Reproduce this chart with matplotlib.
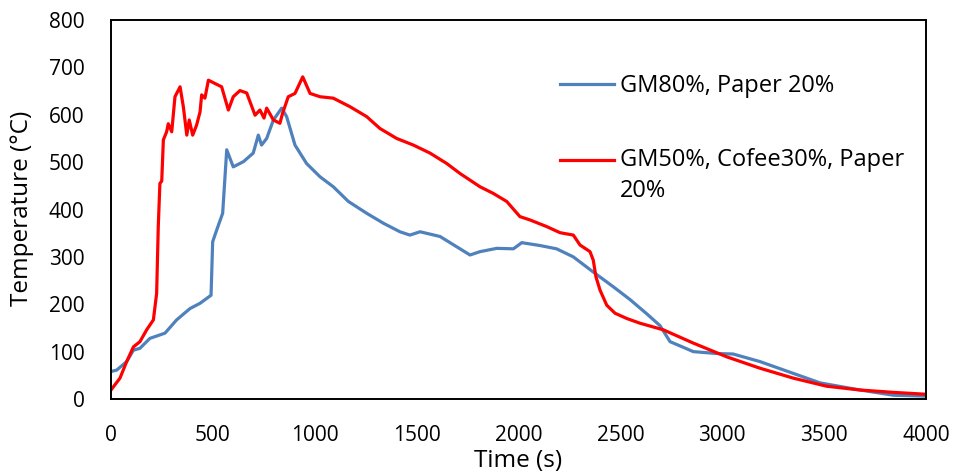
import numpy as np
import matplotlib
matplotlib.use('Agg')
import matplotlib.pyplot as plt

# blue series: GM80%, Paper 20%
blue_t = [0, 28, 77, 110, 142, 191, 265, 322, 388, 437, 491, 499, 519, 548, 568,
          600, 650, 698, 723, 739, 764, 797, 838, 862, 903, 960, 1026, 1091, 1165,
          1255, 1337, 1418, 1467, 1517, 1615, 1762, 1811, 1893, 1975, 2016, 2105,
          2187, 2269, 2367, 2465, 2547, 2629, 2694, 2744, 2793, 2858, 2973, 3053,
          3185, 3349, 3480, 3676, 3840, 4000]
blue_T = [58, 61, 79, 103, 107, 128, 139, 167, 191, 202, 219, 332, 357, 392, 526,
          490, 501, 519, 557, 536, 550, 589, 614, 596, 536, 497, 469, 448, 417,
          392, 371, 353, 346, 353, 343, 304, 311, 318, 317, 330, 324,
          317, 300, 268, 237, 210, 180, 155, 121, 112, 100, 96, 95,
          79, 54, 34, 19, 8, 6]

# red series: GM50%, Cofee30%, Paper 20%
red_t = [0, 44, 77, 110, 142, 175, 208, 224, 232, 240, 249, 257, 273, 281, 298,
         314, 339, 355, 372, 384, 401, 420, 437, 445, 461, 478, 510, 543, 576, 600,
         633, 666, 707, 731, 751, 764, 797, 829, 842, 870, 903, 941, 977, 1026,
         1091, 1173, 1255, 1320, 1402, 1484, 1566, 1648, 1713, 1811, 1876, 1942,
         2007, 2056, 2138, 2204, 2269, 2302, 2351, 2367, 2380, 2400, 2433, 2474,
         2531, 2596, 2711, 2858, 3022, 3185, 3349, 3512, 3676, 3840, 4000]
red_T = [19, 44, 79, 110, 121, 146, 167, 223, 364, 455, 460, 547, 564, 581, 564,
         638, 659, 617, 557, 589, 557, 578, 606, 642, 635, 673, 666, 659, 610, 638,
         651, 646, 599, 610, 593, 614, 589, 582, 603, 638, 645, 680, 645, 638,
         635, 617, 596, 571, 550, 536, 519, 497, 476, 448, 434, 417,
         385, 378, 364, 351, 346, 325, 311, 293, 258, 230, 198, 181,
         170, 160, 146, 118, 89, 65, 44, 27, 19, 14, 10]

labels = ['GM80%, Paper 20%', 'GM50%, Cofee30%, Paper\n20%']
xticks = np.arange(0, 4001, 500)
yticks = np.arange(0, 801, 100)

plt.rcParams['font.family'] = ['Open Sans', 'DejaVu Sans']

fig = plt.figure(figsize=(9.55, 4.73), dpi=100)
ax = fig.add_axes([111/955, 74/473, 815/955, 379/473])

ax.plot(blue_t, blue_T, color='#4F81BD', lw=2.3, solid_joinstyle='round', label=labels[0])
ax.plot(red_t, red_T, color='#FF0000', lw=2.3, solid_joinstyle='round', label=labels[1])

ax.set_xlim(0, 4000)
ax.set_ylim(0, 800)
ax.set_xticks(xticks)
ax.set_yticks(yticks)
ax.tick_params(axis='both', length=0, labelsize=15)
ax.tick_params(axis='x', pad=19)
ax.tick_params(axis='y', pad=19)
for s in ax.spines.values():
    s.set_linewidth(1.4)
    s.set_color('black')

ax.set_xlabel('Time (s)', fontsize=17.5)
ax.set_ylabel('Temperature (°C)', fontsize=17.5)
ax.xaxis.set_label_coords(0.5, -0.131)
ax.yaxis.set_label_coords(-0.094, 0.503)

leg = ax.legend(loc='upper left', bbox_to_anchor=(0.551, 0.857), frameon=False,
                fontsize=17, handlelength=2.3, handletextpad=0.22,
                labelspacing=2.1, borderpad=0, borderaxespad=0)
for t in leg.get_texts():
    t.set_linespacing(1.4)
# excel puts the handle on the first line of a wrapped entry
h = leg.legend_handles[1]
h.set_ydata(np.asarray(h.get_ydata()) + 11.5)

fig.savefig('out.png', dpi=100)
